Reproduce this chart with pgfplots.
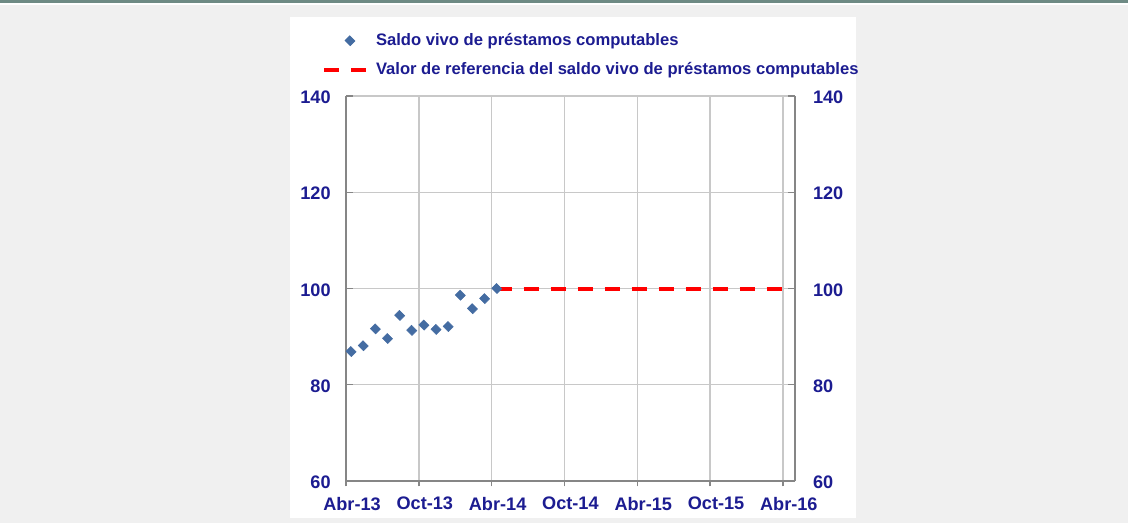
\documentclass[border=0pt]{standalone}
\usepackage{fontspec}
\setmainfont{Liberation Sans}
\usepackage{pgfplots}
\usepackage{pgfplotstable}
\pgfplotsset{compat=1.18}
\definecolor{navy}{RGB}{28,28,145}
\definecolor{ptblue}{RGB}{68,108,162}
\definecolor{bg}{RGB}{240,240,240}
\definecolor{topbar}{RGB}{110,138,132}
\definecolor{gridc}{RGB}{200,200,200}
\definecolor{axc}{RGB}{134,134,134}
\pgfplotsset{
  markleg/.style={legend image code/.code={\draw[mark repeat=2, mark phase=2, ##1] plot coordinates {(0pt,0pt) (19.5pt,0pt) (32.25pt,0pt)};}},
  lineleg/.style={legend image code/.code={\draw[##1] (0pt,0pt) -- (32.25pt,0pt);}},
}
\pgfplotstableread{
x y
0.42 86.9
1.42 88.1
2.42 91.6
3.42 89.6
4.42 94.4
5.42 91.3
6.42 92.4
7.42 91.5
8.42 92.1
9.42 98.6
10.42 95.8
11.42 97.9
12.42 100.0
}\saldo
\pgfplotstableread{
x y
12.42 100
36 100
}\refval
\begin{document}
\begin{tikzpicture}
% background (1px = 0.75pt)
\fill[bg] (0pt,0pt) rectangle (846pt,-392.25pt);
\fill[topbar] (0pt,0pt) rectangle (846pt,-2.5pt);
\fill[white] (0pt,-2.5pt) rectangle (846pt,-4pt);
\fill[white] (217.5pt,-12.75pt) rectangle (642pt,-388.5pt);
\begin{axis}[
  at={(259.5pt,-360.75pt)}, anchor=south west,
  scale only axis, width=336.75pt, height=288.75pt,
  xmin=0, xmax=37, ymin=60, ymax=140,
  xtick={0,6,12,18,24,30,36},
  xticklabels={Abr-13,Oct-13,Abr-14,Oct-14,Abr-15,Oct-15,Abr-16},
  ytick={60,80,100,120,140},
  axis x line*=bottom, axis y line*=left,
  axis line style={axc, line width=1.1pt, -},
  grid=major, major grid style={gridc, line width=1.1pt},
  tick align=inside, major tick length=5pt,
  every tick/.style={axc, line width=1.1pt},
  every x tick/.append style={yshift=-4pt},
  ticklabel style={font=\bfseries\fontsize{13.6}{16}\selectfont, text=navy},
  /pgf/number format/assume math mode=true,
  yticklabel style={xshift=-8pt, yshift=-1pt},
  xticklabel style={yshift=-8.5pt, xshift=4.5pt},
  clip=false,
  legend style={draw=none, fill=none, at={(axis description cs:0,1)}, anchor=south west,
    xshift=-18pt, yshift=14.5pt, inner sep=0pt, outer sep=0pt,
    font=\bfseries\fontsize{12.45}{15}\selectfont, text=navy,
    row sep=11pt,
    nodes={inner sep=0pt, outer sep=0pt},
    /tikz/every odd column/.append style={column sep=5.25pt}},
  legend cell align=left,
]
\addplot[only marks, mark=square*, mark size=2.55pt, mark options={fill=ptblue, draw=ptblue, rotate=45, yscale=1.1}, markleg]
  table[x=x,y=y]{\saldo};
\addlegendentry{Saldo vivo de préstamos computables}
\addplot[red, line width=3pt, dash pattern=on 11.25pt off 9pt, mark=none, lineleg]
  table[x=x,y=y]{\refval};
\addlegendentry{Valor de referencia del saldo vivo de préstamos computables}
\end{axis}
\begin{axis}[
  at={(259.5pt,-360.75pt)}, anchor=south west,
  scale only axis, width=336.75pt, height=288.75pt,
  xmin=0, xmax=37, ymin=60, ymax=140,
  axis x line=none, axis y line*=right,
  ytick={60,80,100,120,140},
  axis line style={axc, line width=1.1pt, -},
  tick align=inside, major tick length=5pt,
  every tick/.style={axc, line width=1.1pt},
  ticklabel style={font=\bfseries\fontsize{13.6}{16}\selectfont, text=navy},
  /pgf/number format/assume math mode=true,
  yticklabel style={xshift=10pt, yshift=-1pt},
]
\addplot[draw=none] coordinates {(0,60)};
\end{axis}
\end{tikzpicture}
\end{document}
